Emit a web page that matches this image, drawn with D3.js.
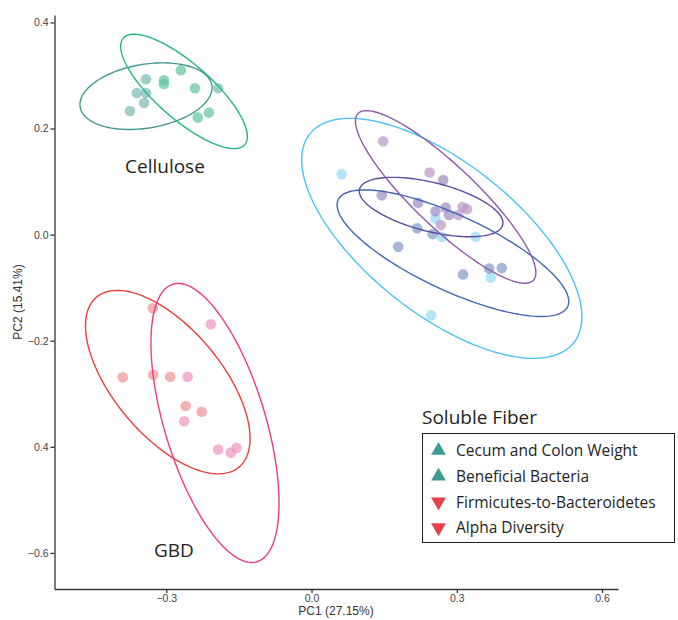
<!DOCTYPE html>
<html>
<head>
<meta charset="utf-8">
<script src="https://cdn.jsdelivr.net/npm/d3@7"></script>
<style>
  body { margin: 0; background: #fff; }
  .axis path, .axis line { stroke: #333; stroke-width: 1.3; }
  .axis text { font-family: 'Liberation Sans', Arial, sans-serif; font-size: 10.5px; fill: #444; }
</style>
</head>
<body>
<div id="pca"></div>
<script>
// PCA scores: [PC1, PC2]
const celluloseTeal = [[-0.342, 0.293], [-0.361, 0.267], [-0.342, 0.267], [-0.346, 0.248], [-0.375, 0.233], [-0.193, 0.276]]
const celluloseGreen = [[-0.270, 0.310], [-0.305, 0.291], [-0.305, 0.284], [-0.241, 0.276], [-0.235, 0.221], [-0.212, 0.230]]
const gbdRed = [[-0.328, -0.139], [-0.390, -0.269], [-0.327, -0.264], [-0.292, -0.268], [-0.260, -0.323], [-0.227, -0.334]]
const gbdPink = [[-0.208, -0.169], [-0.256, -0.268], [-0.263, -0.352], [-0.193, -0.405], [-0.167, -0.411], [-0.155, -0.402]]
const solubleSky = [[0.062, 0.114], [0.256, 0.030], [0.269, -0.004], [0.339, -0.004], [0.370, -0.081], [0.247, -0.152]]
const solubleBlue = [[0.218, 0.012], [0.250, 0.001], [0.179, -0.023], [0.313, -0.075], [0.367, -0.064], [0.393, -0.063]]
const solubleIndigo = [[0.272, 0.103], [0.145, 0.074], [0.220, 0.060], [0.277, 0.051], [0.256, 0.044], [0.284, 0.037]]
const solubleLavender = [[0.148, 0.176], [0.244, 0.117], [0.312, 0.052], [0.321, 0.048], [0.303, 0.037], [0.267, 0.018]]

const groupNames = ['celluloseTeal', 'celluloseGreen', 'gbdRed', 'gbdPink', 'solubleSky', 'solubleBlue', 'solubleIndigo', 'solubleLavender']
const groupPoints = [celluloseTeal, celluloseGreen, gbdRed, gbdPink, solubleSky, solubleBlue, solubleIndigo, solubleLavender]

// confidence ellipses (data units): centre, conjugate half-diameter to the lowest point, horizontal half-chord
const ellipseCenter = [[-0.342, 0.261], [-0.2635, 0.270], [-0.297, -0.278], [-0.1995, -0.355], [0.269, -0.007], [0.292, -0.035], [0.247, 0.052], [0.277, 0.071]]
const ellipseU = [[-0.0345, -0.0628], [0.1032, -0.1078], [0.1043, -0.1729], [0.0758, -0.263], [0.1893, -0.2262], [0.1823, -0.1193], [0.0791, -0.056], [0.1635, -0.1627]]
const ellipseV = [0.132, 0.0805, 0.1342, 0.1084, 0.2189, 0.1549, 0.1255, 0.0894]

const xTicks = [-0.3, 0, 0.3, 0.6]
const xTickLabels = ['\u22120.3', '0.0', '0.3', '0.6']
const yTicks = [0.4, 0.2, 0, -0.2, -0.4, -0.6]
const yTickLabels = ['0.4', '0.2', '0.0', '\u22120.2', '0.4', '\u22120.6']

const legendTitle = 'Soluble Fiber'
const legendLabels = ['Cecum and Colon Weight', 'Beneficial Bacteria', 'Firmicutes-to-Bacteroidetes', 'Alpha Diversity']
const legendUp = [true, true, false, false]

const lineColor = {
  celluloseTeal: '#44998f', celluloseGreen: '#22b585', gbdRed: '#e8403f', gbdPink: '#ea3a8c',
  solubleSky: '#4dc4f0', solubleBlue: '#4466b3', solubleIndigo: '#5d4ca0', solubleLavender: '#8c5ca6'
}
const dotColor = {
  celluloseTeal: '#79b9b1', celluloseGreen: '#5fc6a0', gbdRed: '#ec9393', gbdPink: '#f093c0',
  solubleSky: '#94d8f5', solubleBlue: '#7f98cc', solubleIndigo: '#9a8cc2', solubleLavender: '#bb96c8'
}

const svg = d3.select('#pca').append('svg')
  .attr('width', 678)
  .attr('height', 620)

const x = d3.scaleLinear().domain([-0.531, 0.633]).range([54.5, 618])
const y = d3.scaleLinear().domain([-0.668, 0.414]).range([589, 15])

// axes
svg.append('g')
  .attr('class', 'axis')
  .attr('transform', 'translate(0,589)')
  .call(d3.axisBottom(x).tickValues(xTicks).tickSize(4).tickSizeOuter(0).tickPadding(2)
    .tickFormat((d, i) => xTickLabels[i]))

svg.append('g')
  .attr('class', 'axis')
  .attr('transform', 'translate(54.5,0)')
  .call(d3.axisLeft(y).tickValues(yTicks).tickSize(4).tickSizeOuter(0).tickPadding(2)
    .tickFormat((d, i) => yTickLabels[i]))

svg.append('text')
  .attr('x', 336).attr('y', 615)
  .attr('text-anchor', 'middle')
  .style('font-family', "'Liberation Sans', Arial, sans-serif")
  .style('font-size', '12px').style('fill', '#333')
  .text('PC1 (27.15%)')

svg.append('text')
  .attr('transform', 'translate(22,302) rotate(-90)')
  .attr('text-anchor', 'middle')
  .style('font-family', "'Liberation Sans', Arial, sans-serif")
  .style('font-size', '12px').style('fill', '#333')
  .text('PC2 (15.41%)')

// points
groupNames.forEach((g, gi) => {
  svg.append('g').selectAll('circle')
    .data(groupPoints[gi])
    .join('circle')
    .attr('cx', d => x(d[0]))
    .attr('cy', d => y(d[1]))
    .attr('r', 5.3)
    .attr('fill', dotColor[g])
    .attr('fill-opacity', 0.7)
})

// ellipses
const ellipseLine = d3.line().x(d => x(d[0])).y(d => y(d[1])).curve(d3.curveLinearClosed)
const angles = d3.range(0, 2 * Math.PI, Math.PI / 90)
groupNames.forEach((g, gi) => {
  const c = ellipseCenter[gi], u = ellipseU[gi], v = ellipseV[gi]
  const pts = angles.map(t => [c[0] + u[0] * Math.cos(t) + v * Math.sin(t), c[1] + u[1] * Math.cos(t)])
  svg.append('path')
    .datum(pts)
    .attr('d', ellipseLine)
    .attr('fill', 'none')
    .attr('stroke', lineColor[g])
    .attr('stroke-width', 1.4)
})

// cluster labels
const labelFont = "'Open Sans', 'Noto Sans', sans-serif"
svg.append('text').attr('x', 125).attr('y', 173).text('Cellulose')
  .style('font-family', labelFont).style('font-size', '19px').style('fill', '#231f20')
svg.append('text').attr('x', 154).attr('y', 557).text('GBD')
  .style('font-family', labelFont).style('font-size', '19px').style('fill', '#231f20')
svg.append('text').attr('x', 422).attr('y', 424).text(legendTitle)
  .style('font-family', labelFont).style('font-size', '19px').style('fill', '#231f20')

// legend
const legend = svg.append('g')
legend.append('rect')
  .attr('x', 422.5).attr('y', 433.5).attr('width', 252).attr('height', 109)
  .attr('fill', '#fff').attr('stroke', '#231f20').attr('stroke-width', 1)

const tri = d3.symbol().type(d3.symbolTriangle).size(95)
legendLabels.forEach((lab, i) => {
  const cy = 450.5 + i * 25.7
  legend.append('path')
    .attr('d', tri())
    .attr('transform', 'translate(438.5,' + cy + ')' + (legendUp[i] ? '' : ' rotate(180)'))
    .attr('fill', legendUp[i] ? '#3e9a93' : '#e8414b')
  legend.append('text')
    .attr('x', 456).attr('y', cy + 5.8)
    .style('font-family', labelFont).style('font-size', '15.5px').style('fill', '#231f20')
    .text(lab)
})
</script>
</body>
</html>
